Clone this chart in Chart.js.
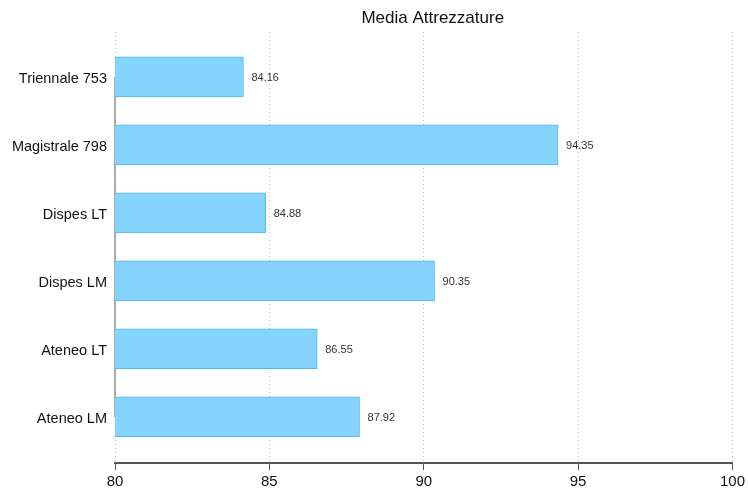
<!DOCTYPE html>
<html>
<head>
<meta charset="utf-8">
<script src="https://cdn.jsdelivr.net/npm/chart.js@4"></script>
<style>
  body { margin: 0; background: #fff; }
  canvas { display: block; }
</style>
</head>
<body>
<canvas id="chart" width="748" height="495"></canvas>
<script>
const categories = ['Triennale 753', 'Magistrale 798', 'Dispes LT', 'Dispes LM', 'Ateneo LT', 'Ateneo LM'];
const values = [84.16, 94.35, 84.88, 90.35, 86.55, 87.92];
const xTicks = [80, 85, 90, 95, 100];
const chartTitle = 'Media Attrezzature';

// bars placed on a linear index axis so the spacing matches
const points = values.map(function (v, i) { return { x: v, y: i }; });

const extras = {
  id: 'extras',
  beforeDatasetsDraw: function (chart) {
    // gray axis line spanning first to last category
    const ctx = chart.ctx;
    const ys = chart.scales.y;
    const x0 = chart.chartArea.left;
    ctx.save();
    ctx.strokeStyle = '#aaa';
    ctx.lineWidth = 2;
    ctx.beginPath();
    ctx.moveTo(x0, ys.getPixelForValue(0));
    ctx.lineTo(x0, ys.getPixelForValue(categories.length - 1));
    ctx.stroke();
    ctx.restore();
  },
  afterDatasetsDraw: function (chart) {
    const ctx = chart.ctx;
    const meta = chart.getDatasetMeta(0);
    ctx.save();
    ctx.font = '11px "Liberation Sans", Arial, sans-serif';
    ctx.fillStyle = '#333';
    ctx.textBaseline = 'middle';
    meta.data.forEach(function (bar, i) {
      ctx.fillText(values[i].toFixed(2), bar.x + 8, bar.y + 1);
    });
    // title
    const area = chart.chartArea;
    ctx.font = '17px "Liberation Sans", Arial, sans-serif';
    ctx.fillStyle = '#111';
    ctx.textAlign = 'center';
    ctx.fillText(chartTitle, (area.left + area.right) / 2 + 9, 18);
    ctx.restore();
  }
};

new Chart(document.getElementById('chart').getContext('2d'), {
  type: 'bar',
  data: {
    datasets: [{
      data: points,
      backgroundColor: '#85d4fd',
      borderColor: '#4fb9f0',
      borderWidth: 1,
      barThickness: 40
    }]
  },
  options: {
    indexAxis: 'y',
    responsive: false,
    animation: false,
    layout: { padding: { top: 32, right: 14, bottom: 0, left: 0 } },
    plugins: {
      legend: { display: false },
      tooltip: { enabled: false }
    },
    scales: {
      x: {
        type: 'linear',
        min: 80,
        max: 100,
        afterBuildTicks: function (scale) {
          scale.ticks = xTicks.map(function (v) { return { value: v }; });
        },
        afterFit: function (scale) { scale.height = 32; },
        border: { display: true, color: '#555', width: 2, dash: [1, 3] },
        grid: {
          color: '#bdbdbd',
          tickLength: 7,
          tickColor: '#555',
          tickBorderDash: [],
          lineWidth: 1
        },
        ticks: {
          color: '#111',
          padding: 3,
          font: { family: '"Liberation Sans", Arial, sans-serif', size: 15 }
        }
      },
      y: {
        type: 'linear',
        reverse: true,
        offset: false,
        min: -0.66,
        max: 5.68,
        afterBuildTicks: function (scale) {
          scale.ticks = categories.map(function (c, i) { return { value: i }; });
        },
        afterFit: function (scale) { scale.width = 115; },
        border: { display: false },
        grid: { display: false, drawTicks: false, tickLength: 0 },
        ticks: {
          color: '#111',
          padding: 8,
          labelOffset: 2,
          font: { family: '"Liberation Sans", Arial, sans-serif', size: 14.5 },
          callback: function (v) { return categories[v] || ''; }
        }
      }
    }
  },
  plugins: [extras]
});
</script>
</body>
</html>
